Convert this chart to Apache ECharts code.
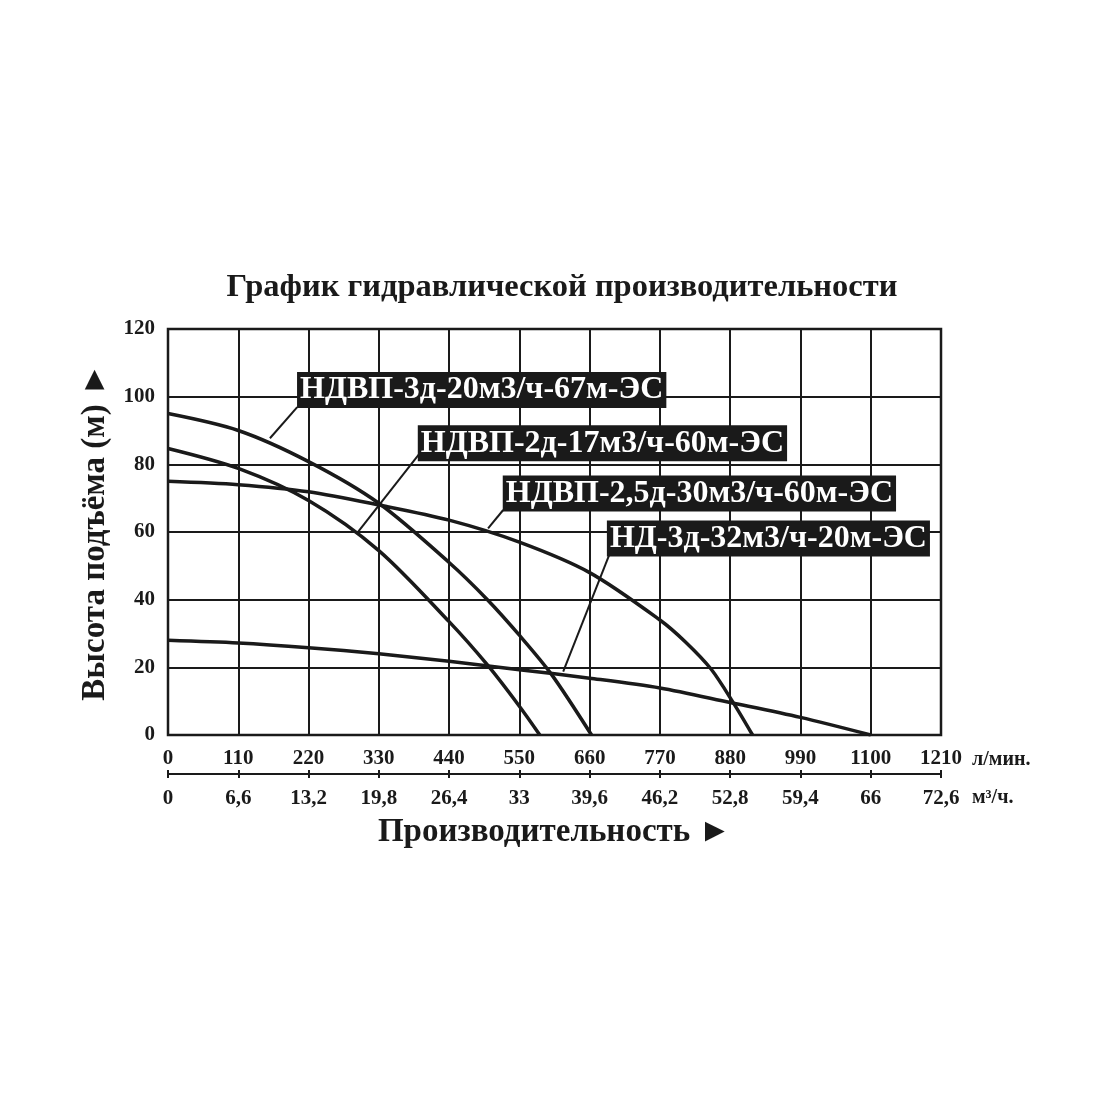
<!DOCTYPE html>
<html>
<head>
<meta charset="utf-8">
<script src="https://cdn.jsdelivr.net/npm/echarts@6/dist/echarts.min.js"></script>
<style>
  html, body { margin: 0; padding: 0; background: #ffffff; }
  #chart { width: 1100px; height: 1100px; }
</style>
</head>
<body>
<div id="chart"></div>
<script>
// Pump curves: flow in л/мин, head in м
const flowA = [0, 110, 220, 330, 440, 500, 550, 600, 663];
const headA = [95, 90, 80.8, 68.5, 51, 40, 29.5, 18, 0];

const flowB = [0, 110, 220, 330, 440, 500, 550, 582];
const headB = [84.7, 78.8, 69.3, 54.5, 33.5, 20.7, 8.5, 0];

const flowC = [0, 110, 220, 330, 440, 550, 660, 770, 810, 850, 885, 915];
const headC = [75, 74, 71.9, 68, 63.5, 57, 48, 34, 27.5, 19.5, 9.5, 0];

const flowD = [0, 110, 220, 330, 440, 550, 660, 770, 880, 990, 1100];
const headD = [28, 27.2, 25.8, 24, 21.8, 19.3, 16.8, 13.9, 9.6, 5.2, 0];

const seriesNames = [
	'НДВП-3д-20м3/ч-67м-ЭС',
	'НДВП-2д-17м3/ч-60м-ЭС',
	'НДВП-2,5д-30м3/ч-60м-ЭС',
	'НД-3д-32м3/ч-20м-ЭС'
];

// tick labels
const lpmTicks = ['0', '110', '220', '330', '440', '550', '660', '770', '880', '990', '1100', '1210'];
const m3hTicks = ['0', '6,6', '13,2', '19,8', '26,4', '33', '39,6', '46,2', '52,8', '59,4', '66', '72,6'];

const FONT = 'Liberation Serif';
const INK = '#1a1a1a';

function pairs(xs, ys) {
	return xs.map((x, i) => [x, ys[i]]);
}

const chart = echarts.init(document.getElementById('chart'));

// callout boxes: anchor = left middle of the box, leader = [on curve, at box]
const callouts = [
	{ anchor: [202, 102], leader: [[159.6, 87.7], [202.3, 96.9]] },
	{ anchor: [391, 86.2], leader: [[297.8, 60.1], [394.3, 83.3]] },
	{ anchor: [524, 71.4], leader: [[501, 61.1], [524.7, 66.5]] },
	{ anchor: [687, 58.1], leader: [[618.6, 18.7], [691.6, 53.7]] }
];

const curves = [pairs(flowA, headA), pairs(flowB, headB), pairs(flowC, headC), pairs(flowD, headD)];

const series = curves.map((data, i) => ({
	name: seriesNames[i],
	type: 'line',
	data: data,
	smooth: 0.3,
	showSymbol: false,
	silent: true,
	lineStyle: { color: INK, width: 3.5 },
	z: 3,
	markLine: {
		silent: true,
		symbol: 'none',
		animation: false,
		label: { show: false },
		lineStyle: { color: INK, width: 2, type: 'solid' },
		data: [[{ coord: callouts[i].leader[0] }, { coord: callouts[i].leader[1] }]]
	},
	markPoint: {
		silent: true,
		animation: false,
		symbol: 'rect',
		symbolSize: 0,
		data: [{ coord: callouts[i].anchor, value: seriesNames[i] }],
		label: {
			show: true,
			position: 'right',
			distance: 0,
			formatter: seriesNames[i],
			color: '#ffffff',
			backgroundColor: INK,
			fontFamily: FONT,
			fontWeight: 'bold',
			fontSize: 32,
			lineHeight: 32,
			padding: [3, 3, 1, 3]
		}
	}
}));

const option = {
	backgroundColor: '#ffffff',
	animation: false,
	title: {
		text: 'График гидравлической производительности',
		left: 557,
		textAlign: 'center',
		top: 266,
		textStyle: { fontFamily: FONT, fontWeight: 'bold', fontSize: 32.5, color: INK }
	},
	grid: {
		left: 168,
		top: 329,
		width: 773,
		height: 406,
		show: true,
		borderColor: INK,
		borderWidth: 2.5,
		backgroundColor: 'transparent'
	},
	xAxis: [
		{
			type: 'value',
			min: 0,
			max: 1210,
			interval: 110,
			axisLine: { show: false },
			axisTick: { show: false },
			splitLine: { show: true, lineStyle: { color: INK, width: 2 } },
			axisLabel: {
				margin: 13,
				fontFamily: FONT,
				fontWeight: 'bold',
				fontSize: 21,
				color: INK,
				formatter: (v) => lpmTicks[Math.round(v / 110)]
			}
		},
		{
			type: 'value',
			min: 0,
			max: 1210,
			interval: 110,
			position: 'bottom',
			offset: 39,
			axisLine: { show: true, onZero: false, lineStyle: { color: INK, width: 2 } },
			axisTick: { show: true, inside: false, length: 4, lineStyle: { color: INK, width: 2 } },
			splitLine: { show: false },
			axisLabel: {
				margin: 14,
				fontFamily: FONT,
				fontWeight: 'bold',
				fontSize: 21,
				color: INK,
				formatter: (v) => m3hTicks[Math.round(v / 110)]
			},
			name: 'Производительность ►',
			nameLocation: 'middle',
			nameGap: 42,
			nameTextStyle: { fontFamily: FONT, fontWeight: 'bold', fontSize: 33, color: INK }
		},
		{
			type: 'value',
			min: 0,
			max: 1210,
			interval: 110,
			position: 'bottom',
			offset: 39,
			axisLine: { show: false },
			axisTick: { show: true, inside: true, length: 4, lineStyle: { color: INK, width: 2 } },
			splitLine: { show: false },
			axisLabel: { show: false }
		}
	],
	yAxis: {
		type: 'value',
		min: 0,
		max: 120,
		interval: 20,
		axisLine: { show: false },
		axisTick: { show: false },
		splitLine: { show: true, lineStyle: { color: INK, width: 2 } },
		axisLabel: {
			margin: 13,
			fontFamily: FONT,
			fontWeight: 'bold',
			fontSize: 21,
			color: INK
		},
		name: 'Высота подъёма (м) ►',
		nameLocation: 'middle',
		nameRotate: 90,
		nameGap: 56,
		nameTextStyle: { fontFamily: FONT, fontWeight: 'bold', fontSize: 33, color: INK }
	},
	graphic: [
		{
			type: 'text',
			left: 972,
			top: 750,
			style: { text: 'л/мин.', fontFamily: FONT, fontWeight: 'bold', fontSize: 20, fill: INK }
		},
		{
			type: 'text',
			left: 972,
			top: 788,
			style: { text: 'м³/ч.', fontFamily: FONT, fontWeight: 'bold', fontSize: 20, fill: INK }
		}
	],
	series: series
};

chart.setOption(option);
</script>
</body>
</html>
